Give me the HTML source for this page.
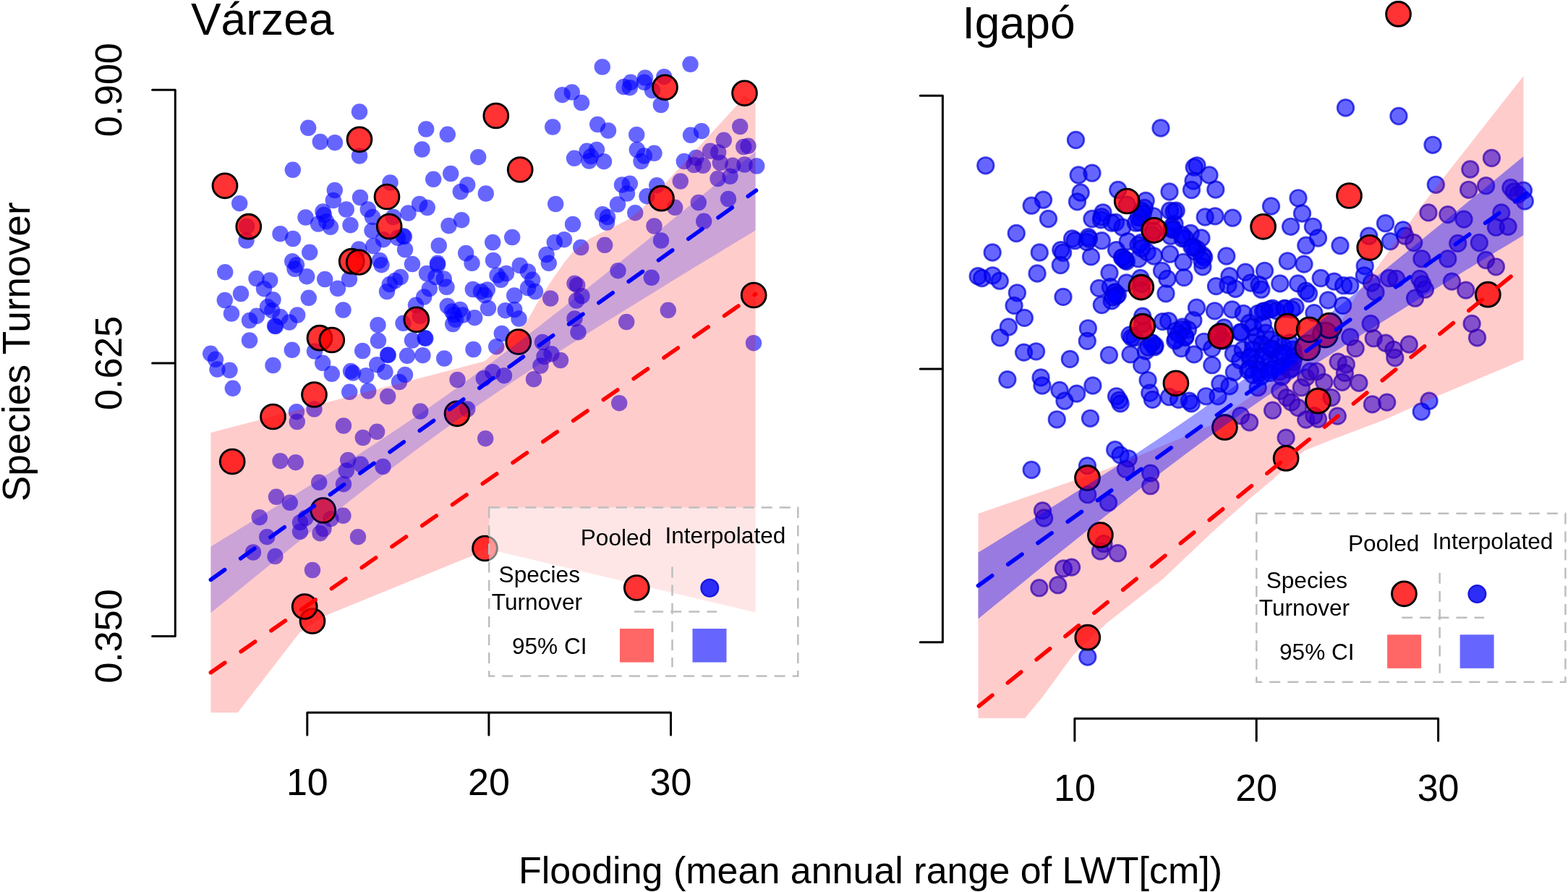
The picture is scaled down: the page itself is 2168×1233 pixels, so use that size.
<!DOCTYPE html>
<html lang="en">
<head>
<meta charset="utf-8">
<title>Species Turnover vs Flooding</title>
<style>
html,body{margin:0;padding:0;background:#fff;}
body{width:2168px;height:1233px;overflow:hidden;font-family:"Liberation Sans", Arial, Helvetica, sans-serif;}
svg{display:block;}
text{font-family:"Liberation Sans", Arial, Helvetica, sans-serif;fill:#000;}
.title{font-size:62.4px;}
.tk{font-size:52px;}
.yl{font-size:53.2px;}
.lt{font-size:31.6px;}
.pink{fill:#ff0000;fill-opacity:0.2;}
.bandL{fill:#0000ff;fill-opacity:0.2;}
.bandR{fill:#0000ff;fill-opacity:0.4;}
.bl{fill:#0000ff;fill-opacity:0.6;}
.br{fill:#0000ff;fill-opacity:0.6;stroke:#0000dc;stroke-opacity:0.7;stroke-width:2.7;}
.rd{fill:#ff0000;fill-opacity:0.8;stroke:#000;stroke-width:2.9;}
.dash{fill:none;stroke-width:5.6;stroke-linecap:round;}
.db{stroke:#0000ff;}
.dr{stroke:#ff0000;}
.ax path{fill:none;stroke:#000;stroke-width:3;stroke-linecap:round;stroke-linejoin:round;}
.lg{fill:none;stroke:#bebebe;stroke-width:2.5;stroke-dasharray:15 10.1;}
</style>
</head>
<body>
<svg width="2168" height="1233" viewBox="0 0 2168 1233">
<rect width="2168" height="1233" fill="#fff"/>
<g id="left">
<circle class="bl" cx="497" cy="154.5" r="11.2"/>
<circle class="bl" cx="426.2" cy="176.8" r="11.2"/>
<circle class="bl" cx="442.8" cy="196" r="11.2"/>
<circle class="bl" cx="463" cy="197.2" r="11.2"/>
<circle class="bl" cx="497" cy="215.5" r="11.2"/>
<circle class="bl" cx="404.8" cy="234.8" r="11.2"/>
<circle class="bl" cx="589.2" cy="178.5" r="11.2"/>
<circle class="bl" cx="618.8" cy="185.8" r="11.2"/>
<circle class="bl" cx="583.5" cy="206.5" r="11.2"/>
<circle class="bl" cx="661.2" cy="217.2" r="11.2"/>
<circle class="bl" cx="764.2" cy="175.5" r="11.2"/>
<circle class="bl" cx="777.5" cy="131.2" r="11.2"/>
<circle class="bl" cx="623.2" cy="240" r="11.2"/>
<circle class="bl" cx="599.2" cy="247.8" r="11.2"/>
<circle class="bl" cx="646.2" cy="255.5" r="11.2"/>
<circle class="bl" cx="636.8" cy="265" r="11.2"/>
<circle class="bl" cx="671.8" cy="267.5" r="11.2"/>
<circle class="bl" cx="539.5" cy="252.5" r="11.2"/>
<circle class="bl" cx="462.8" cy="263" r="11.2"/>
<circle class="bl" cx="460.8" cy="277" r="11.2"/>
<circle class="bl" cx="498" cy="273" r="11.2"/>
<circle class="bl" cx="331.2" cy="281.2" r="11.2"/>
<circle class="bl" cx="478.8" cy="289.5" r="11.2"/>
<circle class="bl" cx="508.8" cy="289.5" r="11.2"/>
<circle class="bl" cx="446.5" cy="292.5" r="11.2"/>
<circle class="bl" cx="422.5" cy="300.5" r="11.2"/>
<circle class="bl" cx="515" cy="300" r="11.2"/>
<circle class="bl" cx="440" cy="309.5" r="11.2"/>
<circle class="bl" cx="451.2" cy="306.2" r="11.2"/>
<circle class="bl" cx="457" cy="313.8" r="11.2"/>
<circle class="bl" cx="484.5" cy="311.2" r="11.2"/>
<circle class="bl" cx="564.5" cy="294.5" r="11.2"/>
<circle class="bl" cx="580" cy="282" r="11.2"/>
<circle class="bl" cx="590.8" cy="287" r="11.2"/>
<circle class="bl" cx="543.8" cy="300" r="11.2"/>
<circle class="bl" cx="514.5" cy="318.8" r="11.2"/>
<circle class="bl" cx="768.2" cy="282" r="11.2"/>
<circle class="bl" cx="638.2" cy="304.2" r="11.2"/>
<circle class="bl" cx="620.5" cy="312" r="11.2"/>
<circle class="bl" cx="387.5" cy="323.2" r="11.2"/>
<circle class="bl" cx="405" cy="330" r="11.2"/>
<circle class="bl" cx="340.5" cy="332.5" r="11.2"/>
<circle class="bl" cx="557.5" cy="326.2" r="11.2"/>
<circle class="bl" cx="550" cy="328.8" r="11.2"/>
<circle class="bl" cx="530" cy="331.2" r="11.2"/>
<circle class="bl" cx="516.2" cy="340" r="11.2"/>
<circle class="bl" cx="496.2" cy="344.5" r="11.2"/>
<circle class="bl" cx="560" cy="345" r="11.2"/>
<circle class="bl" cx="428.2" cy="348.8" r="11.2"/>
<circle class="bl" cx="606.8" cy="339.5" r="11.2"/>
<circle class="bl" cx="681.2" cy="335" r="11.2"/>
<circle class="bl" cx="708.2" cy="328" r="11.2"/>
<circle class="bl" cx="766.8" cy="335" r="11.2"/>
<circle class="bl" cx="644.2" cy="350" r="11.2"/>
<circle class="bl" cx="755.5" cy="352" r="11.2"/>
<circle class="bl" cx="682" cy="360" r="11.2"/>
<circle class="bl" cx="525" cy="360" r="11.2"/>
<circle class="bl" cx="527.5" cy="366.2" r="11.2"/>
<circle class="bl" cx="404.2" cy="361.2" r="11.2"/>
<circle class="bl" cx="410" cy="366.2" r="11.2"/>
<circle class="bl" cx="570" cy="365" r="11.2"/>
<circle class="bl" cx="605" cy="363.8" r="11.2"/>
<circle class="bl" cx="652.5" cy="363.8" r="11.2"/>
<circle class="bl" cx="718.8" cy="367" r="11.2"/>
<circle class="bl" cx="758.8" cy="363.8" r="11.2"/>
<circle class="bl" cx="780" cy="331.2" r="11.2"/>
<circle class="bl" cx="832.8" cy="92.5" r="11.2"/>
<circle class="bl" cx="954.5" cy="88.8" r="11.2"/>
<circle class="bl" cx="918.2" cy="106.2" r="11.2"/>
<circle class="bl" cx="892" cy="107.5" r="11.2"/>
<circle class="bl" cx="890.8" cy="113.8" r="11.2"/>
<circle class="bl" cx="872" cy="113.8" r="11.2"/>
<circle class="bl" cx="862.5" cy="120" r="11.2"/>
<circle class="bl" cx="870.8" cy="121.2" r="11.2"/>
<circle class="bl" cx="902" cy="125" r="11.2"/>
<circle class="bl" cx="790.8" cy="127.5" r="11.2"/>
<circle class="bl" cx="804" cy="142" r="11.2"/>
<circle class="bl" cx="913.8" cy="145" r="11.2"/>
<circle class="bl" cx="826.2" cy="172" r="11.2"/>
<circle class="bl" cx="841" cy="180.5" r="11.2"/>
<circle class="bl" cx="880.2" cy="186.2" r="11.2"/>
<circle class="bl" cx="970" cy="181.2" r="11.2"/>
<circle class="bl" cx="955" cy="186.8" r="11.2"/>
<circle class="bl" cx="811.5" cy="208.8" r="11.2"/>
<circle class="bl" cx="825" cy="207" r="11.2"/>
<circle class="bl" cx="794" cy="218.8" r="11.2"/>
<circle class="bl" cx="814.5" cy="222.5" r="11.2"/>
<circle class="bl" cx="817" cy="216.2" r="11.2"/>
<circle class="bl" cx="835" cy="223.2" r="11.2"/>
<circle class="bl" cx="880.8" cy="207" r="11.2"/>
<circle class="bl" cx="890.8" cy="215.5" r="11.2"/>
<circle class="bl" cx="904.5" cy="211.8" r="11.2"/>
<circle class="bl" cx="886.5" cy="223" r="11.2"/>
<circle class="bl" cx="945.8" cy="223" r="11.2"/>
<circle class="bl" cx="962.5" cy="218" r="11.2"/>
<circle class="bl" cx="959.5" cy="228" r="11.2"/>
<circle class="bl" cx="972" cy="228.8" r="11.2"/>
<circle class="bl" cx="982" cy="208.8" r="11.2"/>
<circle class="bl" cx="993.2" cy="210.5" r="11.2"/>
<circle class="bl" cx="1000.8" cy="193.8" r="11.2"/>
<circle class="bl" cx="1023.2" cy="175" r="11.2"/>
<circle class="bl" cx="1028.2" cy="203" r="11.2"/>
<circle class="bl" cx="1034.5" cy="201.8" r="11.2"/>
<circle class="bl" cx="995.8" cy="225" r="11.2"/>
<circle class="bl" cx="1013.2" cy="228.8" r="11.2"/>
<circle class="bl" cx="1029.5" cy="227.5" r="11.2"/>
<circle class="bl" cx="1046.2" cy="229.5" r="11.2"/>
<circle class="bl" cx="1009.5" cy="243.8" r="11.2"/>
<circle class="bl" cx="992.5" cy="247" r="11.2"/>
<circle class="bl" cx="940.8" cy="250.5" r="11.2"/>
<circle class="bl" cx="860" cy="255.5" r="11.2"/>
<circle class="bl" cx="870.8" cy="253.8" r="11.2"/>
<circle class="bl" cx="867" cy="267.5" r="11.2"/>
<circle class="bl" cx="908.2" cy="256.2" r="11.2"/>
<circle class="bl" cx="894.5" cy="271.2" r="11.2"/>
<circle class="bl" cx="854" cy="282.5" r="11.2"/>
<circle class="bl" cx="878.2" cy="294.2" r="11.2"/>
<circle class="bl" cx="933.2" cy="286.8" r="11.2"/>
<circle class="bl" cx="965.8" cy="280" r="11.2"/>
<circle class="bl" cx="1007" cy="275" r="11.2"/>
<circle class="bl" cx="833.2" cy="296.2" r="11.2"/>
<circle class="bl" cx="840" cy="300" r="11.2"/>
<circle class="bl" cx="839" cy="307.5" r="11.2"/>
<circle class="bl" cx="792" cy="310" r="11.2"/>
<circle class="bl" cx="904.5" cy="312.5" r="11.2"/>
<circle class="bl" cx="973.2" cy="305.8" r="11.2"/>
<circle class="bl" cx="914" cy="332.5" r="11.2"/>
<circle class="bl" cx="803.2" cy="342" r="11.2"/>
<circle class="bl" cx="836.2" cy="338.8" r="11.2"/>
<circle class="bl" cx="311.2" cy="376.2" r="11.2"/>
<circle class="bl" cx="354.5" cy="385" r="11.2"/>
<circle class="bl" cx="373.2" cy="387.5" r="11.2"/>
<circle class="bl" cx="407.5" cy="371.8" r="11.2"/>
<circle class="bl" cx="424.2" cy="382.2" r="11.2"/>
<circle class="bl" cx="449.2" cy="386" r="11.2"/>
<circle class="bl" cx="483" cy="386" r="11.2"/>
<circle class="bl" cx="467" cy="398.8" r="11.2"/>
<circle class="bl" cx="546.2" cy="388" r="11.2"/>
<circle class="bl" cx="553.8" cy="383" r="11.2"/>
<circle class="bl" cx="538.8" cy="393" r="11.2"/>
<circle class="bl" cx="590" cy="378" r="11.2"/>
<circle class="bl" cx="602.5" cy="383" r="11.2"/>
<circle class="bl" cx="613.8" cy="385.5" r="11.2"/>
<circle class="bl" cx="687.5" cy="380.5" r="11.2"/>
<circle class="bl" cx="700" cy="378" r="11.2"/>
<circle class="bl" cx="692.5" cy="386.8" r="11.2"/>
<circle class="bl" cx="730" cy="375.5" r="11.2"/>
<circle class="bl" cx="736.2" cy="386.8" r="11.2"/>
<circle class="bl" cx="333" cy="406" r="11.2"/>
<circle class="bl" cx="310.8" cy="415" r="11.2"/>
<circle class="bl" cx="365" cy="399.2" r="11.2"/>
<circle class="bl" cx="377.5" cy="414.2" r="11.2"/>
<circle class="bl" cx="426.8" cy="411.8" r="11.2"/>
<circle class="bl" cx="535" cy="403" r="11.2"/>
<circle class="bl" cx="593.8" cy="399.2" r="11.2"/>
<circle class="bl" cx="586.2" cy="410.5" r="11.2"/>
<circle class="bl" cx="617.5" cy="396.8" r="11.2"/>
<circle class="bl" cx="653.8" cy="400" r="11.2"/>
<circle class="bl" cx="665" cy="403" r="11.2"/>
<circle class="bl" cx="673.8" cy="400.5" r="11.2"/>
<circle class="bl" cx="670" cy="408" r="11.2"/>
<circle class="bl" cx="711.2" cy="408.5" r="11.2"/>
<circle class="bl" cx="730" cy="398" r="11.2"/>
<circle class="bl" cx="740" cy="403" r="11.2"/>
<circle class="bl" cx="761.2" cy="412.5" r="11.2"/>
<circle class="bl" cx="320" cy="433.5" r="11.2"/>
<circle class="bl" cx="370" cy="424.2" r="11.2"/>
<circle class="bl" cx="376.2" cy="429.2" r="11.2"/>
<circle class="bl" cx="355" cy="436.8" r="11.2"/>
<circle class="bl" cx="345" cy="443" r="11.2"/>
<circle class="bl" cx="387.5" cy="438" r="11.2"/>
<circle class="bl" cx="411.2" cy="435.5" r="11.2"/>
<circle class="bl" cx="400" cy="445.5" r="11.2"/>
<circle class="bl" cx="380" cy="450.5" r="11.2"/>
<circle class="bl" cx="474.5" cy="428.5" r="11.2"/>
<circle class="bl" cx="575" cy="421.8" r="11.2"/>
<circle class="bl" cx="618.8" cy="423" r="11.2"/>
<circle class="bl" cx="625" cy="430.5" r="11.2"/>
<circle class="bl" cx="636.2" cy="428" r="11.2"/>
<circle class="bl" cx="640" cy="435.5" r="11.2"/>
<circle class="bl" cx="630" cy="441.8" r="11.2"/>
<circle class="bl" cx="626.2" cy="448" r="11.2"/>
<circle class="bl" cx="656.2" cy="439.2" r="11.2"/>
<circle class="bl" cx="675" cy="426" r="11.2"/>
<circle class="bl" cx="698.8" cy="429.2" r="11.2"/>
<circle class="bl" cx="711.2" cy="428" r="11.2"/>
<circle class="bl" cx="717.5" cy="440.5" r="11.2"/>
<circle class="bl" cx="522.5" cy="449.2" r="11.2"/>
<circle class="bl" cx="557.5" cy="446.8" r="11.2"/>
<circle class="bl" cx="345" cy="470.5" r="11.2"/>
<circle class="bl" cx="403.8" cy="483.8" r="11.2"/>
<circle class="bl" cx="435" cy="485.5" r="11.2"/>
<circle class="bl" cx="523" cy="471" r="11.2"/>
<circle class="bl" cx="501.2" cy="485" r="11.2"/>
<circle class="bl" cx="570" cy="470.5" r="11.2"/>
<circle class="bl" cx="587.5" cy="467.2" r="11.2"/>
<circle class="bl" cx="693.8" cy="461" r="11.2"/>
<circle class="bl" cx="686.2" cy="479.2" r="11.2"/>
<circle class="bl" cx="654.5" cy="483" r="11.2"/>
<circle class="bl" cx="536.2" cy="490.5" r="11.2"/>
<circle class="bl" cx="563" cy="491.8" r="11.2"/>
<circle class="bl" cx="584.5" cy="491.2" r="11.2"/>
<circle class="bl" cx="614.2" cy="495.5" r="11.2"/>
<circle class="bl" cx="291.2" cy="488.8" r="11.2"/>
<circle class="bl" cx="298" cy="496.8" r="11.2"/>
<circle class="bl" cx="300.5" cy="510.5" r="11.2"/>
<circle class="bl" cx="317.5" cy="511.8" r="11.2"/>
<circle class="bl" cx="377.5" cy="505" r="11.2"/>
<circle class="bl" cx="446.2" cy="501.8" r="11.2"/>
<circle class="bl" cx="458.8" cy="516.8" r="11.2"/>
<circle class="bl" cx="485" cy="513" r="11.2"/>
<circle class="bl" cx="488" cy="515.5" r="11.2"/>
<circle class="bl" cx="506.2" cy="519.2" r="11.2"/>
<circle class="bl" cx="521.2" cy="504.2" r="11.2"/>
<circle class="bl" cx="532.5" cy="514.2" r="11.2"/>
<circle class="bl" cx="560" cy="518" r="11.2"/>
<circle class="bl" cx="552" cy="528" r="11.2"/>
<circle class="bl" cx="321.8" cy="536.8" r="11.2"/>
<circle class="bl" cx="483.2" cy="541.8" r="11.2"/>
<circle class="bl" cx="509.2" cy="540.5" r="11.2"/>
<circle class="bl" cx="536.2" cy="548" r="11.2"/>
<circle class="bl" cx="632.5" cy="525" r="11.2"/>
<circle class="bl" cx="668.8" cy="523" r="11.2"/>
<circle class="bl" cx="681.2" cy="514.2" r="11.2"/>
<circle class="bl" cx="697" cy="519.2" r="11.2"/>
<circle class="bl" cx="738" cy="524.2" r="11.2"/>
<circle class="bl" cx="747.5" cy="505.5" r="11.2"/>
<circle class="bl" cx="752.5" cy="493" r="11.2"/>
<circle class="bl" cx="762.5" cy="489.2" r="11.2"/>
<circle class="bl" cx="775" cy="498" r="11.2"/>
<circle class="bl" cx="750" cy="473" r="11.2"/>
<circle class="bl" cx="410" cy="569.2" r="11.2"/>
<circle class="bl" cx="410.8" cy="583" r="11.2"/>
<circle class="bl" cx="434.5" cy="565.5" r="11.2"/>
<circle class="bl" cx="475" cy="588.5" r="11.2"/>
<circle class="bl" cx="581.2" cy="568.5" r="11.2"/>
<circle class="bl" cx="521.2" cy="596.8" r="11.2"/>
<circle class="bl" cx="501.8" cy="605" r="11.2"/>
<circle class="bl" cx="646.2" cy="565.5" r="11.2"/>
<circle class="bl" cx="671.2" cy="606.2" r="11.2"/>
<circle class="bl" cx="387.5" cy="637.2" r="11.2"/>
<circle class="bl" cx="408.8" cy="639.2" r="11.2"/>
<circle class="bl" cx="481.2" cy="636" r="11.2"/>
<circle class="bl" cx="498.8" cy="641.8" r="11.2"/>
<circle class="bl" cx="478.8" cy="650.5" r="11.2"/>
<circle class="bl" cx="529.5" cy="645" r="11.2"/>
<circle class="bl" cx="441.2" cy="666.8" r="11.2"/>
<circle class="bl" cx="475" cy="669.2" r="11.2"/>
<circle class="bl" cx="854.5" cy="374.2" r="11.2"/>
<circle class="bl" cx="900.8" cy="383.8" r="11.2"/>
<circle class="bl" cx="794.5" cy="391.8" r="11.2"/>
<circle class="bl" cx="798.2" cy="394.2" r="11.2"/>
<circle class="bl" cx="804.5" cy="409.2" r="11.2"/>
<circle class="bl" cx="797" cy="415.5" r="11.2"/>
<circle class="bl" cx="794.5" cy="440.5" r="11.2"/>
<circle class="bl" cx="799.5" cy="459.2" r="11.2"/>
<circle class="bl" cx="866.2" cy="445" r="11.2"/>
<circle class="bl" cx="923.8" cy="428.8" r="11.2"/>
<circle class="bl" cx="1042" cy="474.2" r="11.2"/>
<circle class="bl" cx="856.2" cy="557.2" r="11.2"/>
<circle class="bl" cx="382" cy="686.8" r="11.2"/>
<circle class="bl" cx="400.8" cy="694.8" r="11.2"/>
<circle class="bl" cx="358.8" cy="715.2" r="11.2"/>
<circle class="bl" cx="474.5" cy="712.8" r="11.2"/>
<circle class="bl" cx="415" cy="722.2" r="11.2"/>
<circle class="bl" cx="422.5" cy="716" r="11.2"/>
<circle class="bl" cx="415" cy="734.8" r="11.2"/>
<circle class="bl" cx="442.5" cy="737.2" r="11.2"/>
<circle class="bl" cx="447.5" cy="731" r="11.2"/>
<circle class="bl" cx="457.5" cy="717.2" r="11.2"/>
<circle class="bl" cx="369.2" cy="742.2" r="11.2"/>
<circle class="bl" cx="495" cy="742.2" r="11.2"/>
<circle class="bl" cx="350" cy="763.5" r="11.2"/>
<circle class="bl" cx="380.5" cy="769" r="11.2"/>
<circle class="bl" cx="432" cy="788" r="11.2"/>
<circle class="bl" cx="381" cy="451.1" r="11.2"/>
<circle class="bl" cx="605.1" cy="366" r="11.2"/>
<circle class="bl" cx="588.4" cy="467.8" r="11.2"/>
<circle class="bl" cx="536.7" cy="490.9" r="11.2"/>
<circle class="bl" cx="627.8" cy="435" r="11.2"/>
<circle class="bl" cx="558.9" cy="327.2" r="11.2"/>
<circle class="bl" cx="447.9" cy="296.9" r="11.2"/>
<circle class="bl" cx="341.2" cy="313" r="11.2"/>
<circle class="bl" cx="580.7" cy="436.9" r="11.2"/>
<polygon class="pink" points="291.4,598 670.2,499.3 690,481 710,463 727.2,446.8 741.8,420.5 762.2,388.4 779.7,363.6 791.4,349 815,330 868.5,303.6 888,288 1019.5,144.9 1029,132 1044.6,143 1044.6,846.6 670,758 652.5,768.5 450,851 415,873.5 328.8,985 291.4,985"/>
<circle class="rd" cx="311" cy="256.8" r="16.9"/>
<circle class="rd" cx="343.8" cy="313.2" r="16.9"/>
<circle class="rd" cx="497" cy="192.8" r="16.9"/>
<circle class="rd" cx="535" cy="272" r="16.9"/>
<circle class="rd" cx="538.2" cy="313" r="16.9"/>
<circle class="rd" cx="685.8" cy="160" r="16.9"/>
<circle class="rd" cx="719.2" cy="234.5" r="16.9"/>
<circle class="rd" cx="486.2" cy="361.2" r="16.9"/>
<circle class="rd" cx="496.2" cy="362.5" r="16.9"/>
<circle class="rd" cx="919.5" cy="120.8" r="16.9"/>
<circle class="rd" cx="1029.5" cy="128.8" r="16.9"/>
<circle class="rd" cx="914.5" cy="274.2" r="16.9"/>
<circle class="rd" cx="575.8" cy="441.8" r="16.9"/>
<circle class="rd" cx="442" cy="467.2" r="16.9"/>
<circle class="rd" cx="458.8" cy="470" r="16.9"/>
<circle class="rd" cx="716.8" cy="472.5" r="16.9"/>
<circle class="rd" cx="434.5" cy="545.5" r="16.9"/>
<circle class="rd" cx="377.5" cy="576" r="16.9"/>
<circle class="rd" cx="632" cy="571.8" r="16.9"/>
<circle class="rd" cx="321.2" cy="638" r="16.9"/>
<circle class="rd" cx="1042.2" cy="408" r="16.9"/>
<circle class="rd" cx="446.8" cy="705.5" r="16.9"/>
<circle class="rd" cx="432" cy="858.5" r="16.9"/>
<circle class="rd" cx="421.2" cy="838.5" r="16.9"/>
<circle class="rd" cx="670.5" cy="758" r="16.9"/>
<polygon class="bandL" points="291.4,755.5 310.2,744 329.1,732.5 347.9,720.9 366.7,709.3 385.5,697.7 404.4,686 423.2,674.3 442,662.4 460.9,650.5 479.7,638.5 498.5,626.4 517.4,614.2 536.2,601.8 555,589.3 573.8,576.6 592.7,563.7 611.5,550.6 630.3,537.2 649.2,523.6 668,509.8 686.8,495.8 705.7,481.6 724.5,467.2 743.3,452.7 762.1,438 781,423.2 799.8,408.3 818.6,393.3 837.5,378.3 856.3,363.1 875.1,347.9 894,332.7 912.8,317.4 931.6,302.1 950.4,286.7 969.3,271.3 988.1,255.9 1006.9,240.5 1025.8,225 1044.6,209.5 1044.6,318.4 1025.8,329.8 1006.9,341.3 988.1,352.7 969.3,364.1 950.4,375.6 931.6,387.1 912.8,398.7 894,410.3 875.1,421.9 856.3,433.6 837.5,445.3 818.6,457.1 799.8,469 781,480.9 762.1,493 743.3,505.2 724.5,517.5 705.7,530 686.8,542.7 668,555.6 649.2,568.6 630.3,581.9 611.5,595.4 592.7,609.2 573.8,623.1 555,637.3 536.2,651.6 517.4,666.1 498.5,680.8 479.7,695.5 460.9,710.4 442,725.4 423.2,740.5 404.4,755.6 385.5,770.8 366.7,786 347.9,801.3 329.1,816.6 310.2,831.9 291.4,847.3"/>
<line class="dash db" stroke-dasharray="23.7 27" x1="291.4" y1="801.4" x2="1045.5" y2="263.3"/>
<line class="dash dr" stroke-dasharray="23.7 27.15" x1="291.4" y1="929.6" x2="1044.6" y2="406.5"/>
</g>
<g id="right">
<circle class="br" cx="1860.5" cy="149" r="11.3"/>
<circle class="br" cx="1605" cy="177" r="11.3"/>
<circle class="br" cx="1487.5" cy="193.5" r="11.3"/>
<circle class="br" cx="1362.8" cy="228.8" r="11.3"/>
<circle class="br" cx="1491.2" cy="242" r="11.3"/>
<circle class="br" cx="1510" cy="239.2" r="11.3"/>
<circle class="br" cx="1651.2" cy="231.2" r="11.3"/>
<circle class="br" cx="1655" cy="228.8" r="11.3"/>
<circle class="br" cx="1672" cy="242" r="11.3"/>
<circle class="br" cx="1650" cy="250" r="11.3"/>
<circle class="br" cx="1647.5" cy="262.5" r="11.3"/>
<circle class="br" cx="1680.8" cy="262" r="11.3"/>
<circle class="br" cx="1617" cy="265" r="11.3"/>
<circle class="br" cx="1545.8" cy="262.5" r="11.3"/>
<circle class="br" cx="1494.2" cy="266.2" r="11.3"/>
<circle class="br" cx="1489.5" cy="278.8" r="11.3"/>
<circle class="br" cx="1442.5" cy="276.2" r="11.3"/>
<circle class="br" cx="1426.2" cy="284.2" r="11.3"/>
<circle class="br" cx="1584.2" cy="277.5" r="11.3"/>
<circle class="br" cx="1582.5" cy="287.5" r="11.3"/>
<circle class="br" cx="1795" cy="273.8" r="11.3"/>
<circle class="br" cx="1757.5" cy="285" r="11.3"/>
<circle class="br" cx="1800.5" cy="295" r="11.3"/>
<circle class="br" cx="1617.5" cy="291.2" r="11.3"/>
<circle class="br" cx="1626.2" cy="291.2" r="11.3"/>
<circle class="br" cx="1525" cy="293.8" r="11.3"/>
<circle class="br" cx="1449.5" cy="302.5" r="11.3"/>
<circle class="br" cx="1510" cy="302.5" r="11.3"/>
<circle class="br" cx="1522.5" cy="303.8" r="11.3"/>
<circle class="br" cx="1542.5" cy="307.5" r="11.3"/>
<circle class="br" cx="1595" cy="298.8" r="11.3"/>
<circle class="br" cx="1577.5" cy="300" r="11.3"/>
<circle class="br" cx="1666.2" cy="300" r="11.3"/>
<circle class="br" cx="1680" cy="298.8" r="11.3"/>
<circle class="br" cx="1704.2" cy="301.2" r="11.3"/>
<circle class="br" cx="1405.3" cy="322.5" r="11.3"/>
<circle class="br" cx="1551.9" cy="314.2" r="11.3"/>
<circle class="br" cx="1576" cy="307.7" r="11.3"/>
<circle class="br" cx="1624" cy="309.6" r="11.3"/>
<circle class="br" cx="1620.3" cy="317" r="11.3"/>
<circle class="br" cx="1646.2" cy="322.5" r="11.3"/>
<circle class="br" cx="1661" cy="329" r="11.3"/>
<circle class="br" cx="1635.1" cy="329.9" r="11.3"/>
<circle class="br" cx="1618.5" cy="326.2" r="11.3"/>
<circle class="br" cx="1482.6" cy="329.9" r="11.3"/>
<circle class="br" cx="1486.3" cy="332.7" r="11.3"/>
<circle class="br" cx="1504.8" cy="327.7" r="11.3"/>
<circle class="br" cx="1502.9" cy="334.6" r="11.3"/>
<circle class="br" cx="1523.3" cy="332.7" r="11.3"/>
<circle class="br" cx="1559.3" cy="333.6" r="11.3"/>
<circle class="br" cx="1577.8" cy="335.5" r="11.3"/>
<circle class="br" cx="1372.2" cy="349" r="11.3"/>
<circle class="br" cx="1437.3" cy="349" r="11.3"/>
<circle class="br" cx="1466.8" cy="345.6" r="11.3"/>
<circle class="br" cx="1469.6" cy="349.3" r="11.3"/>
<circle class="br" cx="1508.5" cy="354.9" r="11.3"/>
<circle class="br" cx="1543.6" cy="345.6" r="11.3"/>
<circle class="br" cx="1551.9" cy="355.8" r="11.3"/>
<circle class="br" cx="1555.6" cy="358.6" r="11.3"/>
<circle class="br" cx="1557.5" cy="361.4" r="11.3"/>
<circle class="br" cx="1574.1" cy="357.7" r="11.3"/>
<circle class="br" cx="1586.1" cy="348.4" r="11.3"/>
<circle class="br" cx="1595.4" cy="354" r="11.3"/>
<circle class="br" cx="1617.6" cy="351.2" r="11.3"/>
<circle class="br" cx="1636.1" cy="362.3" r="11.3"/>
<circle class="br" cx="1649.9" cy="341" r="11.3"/>
<circle class="br" cx="1655.5" cy="344.7" r="11.3"/>
<circle class="br" cx="1662.9" cy="353" r="11.3"/>
<circle class="br" cx="1664.7" cy="355.8" r="11.3"/>
<circle class="br" cx="1662.9" cy="368.8" r="11.3"/>
<circle class="br" cx="1695.8" cy="354" r="11.3"/>
<circle class="br" cx="1466.3" cy="366.5" r="11.3"/>
<circle class="br" cx="1434.1" cy="378" r="11.3"/>
<circle class="br" cx="1534" cy="377.1" r="11.3"/>
<circle class="br" cx="1606.5" cy="374.3" r="11.3"/>
<circle class="br" cx="1613.9" cy="385.4" r="11.3"/>
<circle class="br" cx="1637" cy="383.6" r="11.3"/>
<circle class="br" cx="1699.9" cy="381.7" r="11.3"/>
<circle class="br" cx="1722" cy="376.2" r="11.3"/>
<circle class="br" cx="1729.4" cy="391" r="11.3"/>
<circle class="br" cx="1352.2" cy="381.7" r="11.3"/>
<circle class="br" cx="1357.7" cy="384.5" r="11.3"/>
<circle class="br" cx="1372.5" cy="380.8" r="11.3"/>
<circle class="br" cx="1382.3" cy="388.2" r="11.3"/>
<circle class="br" cx="1519.6" cy="398.4" r="11.3"/>
<circle class="br" cx="1535.3" cy="396.5" r="11.3"/>
<circle class="br" cx="1541.7" cy="403.9" r="11.3"/>
<circle class="br" cx="1545.4" cy="407.6" r="11.3"/>
<circle class="br" cx="1557.5" cy="391" r="11.3"/>
<circle class="br" cx="1576.9" cy="384.5" r="11.3"/>
<circle class="br" cx="1612" cy="405.8" r="11.3"/>
<circle class="br" cx="1681.4" cy="395.6" r="11.3"/>
<circle class="br" cx="1698" cy="393.7" r="11.3"/>
<circle class="br" cx="1708.2" cy="399.3" r="11.3"/>
<circle class="br" cx="1406.4" cy="404.8" r="11.3"/>
<circle class="br" cx="1470" cy="410.4" r="11.3"/>
<circle class="br" cx="1402.1" cy="422.4" r="11.3"/>
<circle class="br" cx="1523.3" cy="421.5" r="11.3"/>
<circle class="br" cx="1537.1" cy="415.9" r="11.3"/>
<circle class="br" cx="1416.4" cy="439.4" r="11.3"/>
<circle class="br" cx="1654.5" cy="425.2" r="11.3"/>
<circle class="br" cx="1679.5" cy="429.8" r="11.3"/>
<circle class="br" cx="1703.6" cy="427.9" r="11.3"/>
<circle class="br" cx="1719.3" cy="433.5" r="11.3"/>
<circle class="br" cx="1579.7" cy="437.2" r="11.3"/>
<circle class="br" cx="1607.4" cy="444.6" r="11.3"/>
<circle class="br" cx="1615.7" cy="443.7" r="11.3"/>
<circle class="br" cx="1649.9" cy="442.7" r="11.3"/>
<circle class="br" cx="1635.1" cy="452" r="11.3"/>
<circle class="br" cx="1625.9" cy="457.5" r="11.3"/>
<circle class="br" cx="1642.5" cy="455.7" r="11.3"/>
<circle class="br" cx="1394.4" cy="452" r="11.3"/>
<circle class="br" cx="1504.4" cy="453.8" r="11.3"/>
<circle class="br" cx="1382.7" cy="466.8" r="11.3"/>
<circle class="br" cx="1503.3" cy="471.4" r="11.3"/>
<circle class="br" cx="1562.1" cy="463.1" r="11.3"/>
<circle class="br" cx="1568.6" cy="466.8" r="11.3"/>
<circle class="br" cx="1592.6" cy="474.2" r="11.3"/>
<circle class="br" cx="1596.3" cy="479.7" r="11.3"/>
<circle class="br" cx="1625.9" cy="468.6" r="11.3"/>
<circle class="br" cx="1638.8" cy="464.9" r="11.3"/>
<circle class="br" cx="1633.3" cy="481.6" r="11.3"/>
<circle class="br" cx="1664.7" cy="472.3" r="11.3"/>
<circle class="br" cx="1692.5" cy="452.9" r="11.3"/>
<circle class="br" cx="1716.5" cy="459.4" r="11.3"/>
<circle class="br" cx="1727.6" cy="446.4" r="11.3"/>
<circle class="br" cx="1415.6" cy="487.1" r="11.3"/>
<circle class="br" cx="1432.6" cy="485.8" r="11.3"/>
<circle class="br" cx="1479.4" cy="496.4" r="11.3"/>
<circle class="br" cx="1533.4" cy="490.8" r="11.3"/>
<circle class="br" cx="1563" cy="489.9" r="11.3"/>
<circle class="br" cx="1584.3" cy="485.3" r="11.3"/>
<circle class="br" cx="1578.7" cy="504.7" r="11.3"/>
<circle class="br" cx="1650.9" cy="489.9" r="11.3"/>
<circle class="br" cx="1675.8" cy="481.6" r="11.3"/>
<circle class="br" cx="1675.8" cy="504.7" r="11.3"/>
<circle class="br" cx="1705.4" cy="489" r="11.3"/>
<circle class="br" cx="1718.3" cy="483.4" r="11.3"/>
<circle class="br" cx="1714.7" cy="498.2" r="11.3"/>
<circle class="br" cx="1729.4" cy="492.7" r="11.3"/>
<circle class="br" cx="1784.6" cy="313.3" r="11.3"/>
<circle class="br" cx="1815.4" cy="313.3" r="11.3"/>
<circle class="br" cx="1822.5" cy="329" r="11.3"/>
<circle class="br" cx="1805.8" cy="339.2" r="11.3"/>
<circle class="br" cx="1853" cy="339.5" r="11.3"/>
<circle class="br" cx="1915.5" cy="308.7" r="11.3"/>
<circle class="br" cx="1939.9" cy="317.9" r="11.3"/>
<circle class="br" cx="1922.3" cy="333.6" r="11.3"/>
<circle class="br" cx="1892.7" cy="326.2" r="11.3"/>
<circle class="br" cx="1975" cy="293.9" r="11.3"/>
<circle class="br" cx="2001.8" cy="296.6" r="11.3"/>
<circle class="br" cx="2024" cy="303.1" r="11.3"/>
<circle class="br" cx="2075.8" cy="293.9" r="11.3"/>
<circle class="br" cx="2068.4" cy="314.2" r="11.3"/>
<circle class="br" cx="2085.1" cy="313.3" r="11.3"/>
<circle class="br" cx="1942.7" cy="326.2" r="11.3"/>
<circle class="br" cx="1954.7" cy="335.5" r="11.3"/>
<circle class="br" cx="1965.8" cy="357.7" r="11.3"/>
<circle class="br" cx="2001.8" cy="357.7" r="11.3"/>
<circle class="br" cx="2015.7" cy="336.4" r="11.3"/>
<circle class="br" cx="2045.3" cy="335.5" r="11.3"/>
<circle class="br" cx="2054.5" cy="359.5" r="11.3"/>
<circle class="br" cx="2068.4" cy="368.8" r="11.3"/>
<circle class="br" cx="1780.3" cy="360.8" r="11.3"/>
<circle class="br" cx="1803" cy="365.1" r="11.3"/>
<circle class="br" cx="1748.5" cy="374.3" r="11.3"/>
<circle class="br" cx="1887.2" cy="367.8" r="11.3"/>
<circle class="br" cx="1886.3" cy="380.8" r="11.3"/>
<circle class="br" cx="1826.2" cy="384.5" r="11.3"/>
<circle class="br" cx="1844.7" cy="389.1" r="11.3"/>
<circle class="br" cx="1857.6" cy="394.7" r="11.3"/>
<circle class="br" cx="1866.8" cy="394.7" r="11.3"/>
<circle class="br" cx="1769.8" cy="391.9" r="11.3"/>
<circle class="br" cx="1794.7" cy="391.9" r="11.3"/>
<circle class="br" cx="1741.1" cy="393.7" r="11.3"/>
<circle class="br" cx="1743.9" cy="400.2" r="11.3"/>
<circle class="br" cx="1805.8" cy="402.1" r="11.3"/>
<circle class="br" cx="1809.5" cy="405.8" r="11.3"/>
<circle class="br" cx="1920.5" cy="384.5" r="11.3"/>
<circle class="br" cx="1930.6" cy="385.4" r="11.3"/>
<circle class="br" cx="1963" cy="385.4" r="11.3"/>
<circle class="br" cx="1966.7" cy="392.8" r="11.3"/>
<circle class="br" cx="1970.4" cy="400.2" r="11.3"/>
<circle class="br" cx="1956.5" cy="412.2" r="11.3"/>
<circle class="br" cx="2007.4" cy="389.1" r="11.3"/>
<circle class="br" cx="2026.8" cy="401.1" r="11.3"/>
<circle class="br" cx="1896.4" cy="391" r="11.3"/>
<circle class="br" cx="1902" cy="403.9" r="11.3"/>
<circle class="br" cx="1836.3" cy="415" r="11.3"/>
<circle class="br" cx="1856.7" cy="422.4" r="11.3"/>
<circle class="br" cx="1816.9" cy="432.6" r="11.3"/>
<circle class="br" cx="1791" cy="424.2" r="11.3"/>
<circle class="br" cx="1776.2" cy="426.1" r="11.3"/>
<circle class="br" cx="1759.6" cy="426.1" r="11.3"/>
<circle class="br" cx="1748.5" cy="429.8" r="11.3"/>
<circle class="br" cx="1739.2" cy="433.5" r="11.3"/>
<circle class="br" cx="1895.1" cy="447.4" r="11.3"/>
<circle class="br" cx="1866.8" cy="465.9" r="11.3"/>
<circle class="br" cx="1874.2" cy="481.6" r="11.3"/>
<circle class="br" cx="1899.2" cy="467.7" r="11.3"/>
<circle class="br" cx="1915.9" cy="474.2" r="11.3"/>
<circle class="br" cx="1926.9" cy="483.4" r="11.3"/>
<circle class="br" cx="1928.8" cy="494.5" r="11.3"/>
<circle class="br" cx="1948.2" cy="476" r="11.3"/>
<circle class="br" cx="2035.1" cy="447.4" r="11.3"/>
<circle class="br" cx="2042.5" cy="466.8" r="11.3"/>
<circle class="br" cx="1850.2" cy="500.1" r="11.3"/>
<circle class="br" cx="1861.3" cy="503.8" r="11.3"/>
<circle class="br" cx="1392.9" cy="524.6" r="11.3"/>
<circle class="br" cx="1439.1" cy="521.9" r="11.3"/>
<circle class="br" cx="1441" cy="533" r="11.3"/>
<circle class="br" cx="1465" cy="539.4" r="11.3"/>
<circle class="br" cx="1488.7" cy="544.1" r="11.3"/>
<circle class="br" cx="1472" cy="554.2" r="11.3"/>
<circle class="br" cx="1510.9" cy="533" r="11.3"/>
<circle class="br" cx="1543.6" cy="547.8" r="11.3"/>
<circle class="br" cx="1547.3" cy="553.3" r="11.3"/>
<circle class="br" cx="1549.1" cy="557.9" r="11.3"/>
<circle class="br" cx="1587.1" cy="525.6" r="11.3"/>
<circle class="br" cx="1589.8" cy="543.1" r="11.3"/>
<circle class="br" cx="1593.5" cy="552.4" r="11.3"/>
<circle class="br" cx="1616.6" cy="548.7" r="11.3"/>
<circle class="br" cx="1629.6" cy="552.4" r="11.3"/>
<circle class="br" cx="1644.4" cy="554.2" r="11.3"/>
<circle class="br" cx="1647.2" cy="557.9" r="11.3"/>
<circle class="br" cx="1667.5" cy="547.8" r="11.3"/>
<circle class="br" cx="1684.1" cy="547.8" r="11.3"/>
<circle class="br" cx="1686.9" cy="530.2" r="11.3"/>
<circle class="br" cx="1699.9" cy="533.9" r="11.3"/>
<circle class="br" cx="1706.3" cy="514.5" r="11.3"/>
<circle class="br" cx="1725.7" cy="511.7" r="11.3"/>
<circle class="br" cx="1461.3" cy="579.8" r="11.3"/>
<circle class="br" cx="1507.5" cy="578.3" r="11.3"/>
<circle class="br" cx="1541.7" cy="621.7" r="11.3"/>
<circle class="br" cx="1549.1" cy="629.1" r="11.3"/>
<circle class="br" cx="1560.2" cy="633.8" r="11.3"/>
<circle class="br" cx="1556.5" cy="648.5" r="11.3"/>
<circle class="br" cx="1503.5" cy="643.9" r="11.3"/>
<circle class="br" cx="1426.2" cy="649.5" r="11.3"/>
<circle class="br" cx="1590.7" cy="654.1" r="11.3"/>
<circle class="br" cx="1590.7" cy="671.7" r="11.3"/>
<circle class="br" cx="1503.8" cy="683.7" r="11.3"/>
<circle class="br" cx="1532.5" cy="694.8" r="11.3"/>
<circle class="br" cx="1441.5" cy="705.9" r="11.3"/>
<circle class="br" cx="1443.7" cy="716" r="11.3"/>
<circle class="br" cx="1715.6" cy="574.6" r="11.3"/>
<circle class="br" cx="1727.6" cy="583.8" r="11.3"/>
<circle class="br" cx="1976" cy="554.2" r="11.3"/>
<circle class="br" cx="1965.2" cy="569" r="11.3"/>
<circle class="br" cx="1897.4" cy="558.9" r="11.3"/>
<circle class="br" cx="1917.7" cy="556.1" r="11.3"/>
<circle class="br" cx="1849.3" cy="575.1" r="11.3"/>
<circle class="br" cx="1878.9" cy="529.3" r="11.3"/>
<circle class="br" cx="1855.8" cy="528.3" r="11.3"/>
<circle class="br" cx="1830.8" cy="528.3" r="11.3"/>
<circle class="br" cx="1859.4" cy="515.4" r="11.3"/>
<circle class="br" cx="1805.8" cy="521.9" r="11.3"/>
<circle class="br" cx="1811.4" cy="513.5" r="11.3"/>
<circle class="br" cx="1820.6" cy="513.5" r="11.3"/>
<circle class="br" cx="1799.3" cy="535.7" r="11.3"/>
<circle class="br" cx="1772.5" cy="520.9" r="11.3"/>
<circle class="br" cx="1769.8" cy="540.4" r="11.3"/>
<circle class="br" cx="1779" cy="549.6" r="11.3"/>
<circle class="br" cx="1785.5" cy="556.1" r="11.3"/>
<circle class="br" cx="1794.7" cy="563.5" r="11.3"/>
<circle class="br" cx="1805.8" cy="580.1" r="11.3"/>
<circle class="br" cx="1822.5" cy="579.2" r="11.3"/>
<circle class="br" cx="1816.9" cy="574.6" r="11.3"/>
<circle class="br" cx="1841" cy="549.6" r="11.3"/>
<circle class="br" cx="1759.6" cy="567.2" r="11.3"/>
<circle class="br" cx="1778.1" cy="605.1" r="11.3"/>
<circle class="br" cx="1739.2" cy="535.7" r="11.3"/>
<circle class="br" cx="1741.1" cy="515.4" r="11.3"/>
<circle class="br" cx="1757.7" cy="511.7" r="11.3"/>
<circle class="br" cx="1521.4" cy="761.9" r="11.3"/>
<circle class="br" cx="1545.4" cy="764.7" r="11.3"/>
<circle class="br" cx="1526" cy="751.7" r="11.3"/>
<circle class="br" cx="1470.5" cy="785.9" r="11.3"/>
<circle class="br" cx="1481.6" cy="784.1" r="11.3"/>
<circle class="br" cx="1462.8" cy="808.7" r="11.3"/>
<circle class="br" cx="1436.9" cy="812.7" r="11.3"/>
<circle class="br" cx="1503.8" cy="908" r="11.3"/>
<circle class="br" cx="1933.9" cy="160.5" r="11.3"/>
<circle class="br" cx="1981" cy="200.3" r="11.3"/>
<circle class="br" cx="2062.4" cy="218.5" r="11.3"/>
<circle class="br" cx="2032.8" cy="234" r="11.3"/>
<circle class="br" cx="1985.3" cy="255.3" r="11.3"/>
<circle class="br" cx="2030.6" cy="262.3" r="11.3"/>
<circle class="br" cx="2054.6" cy="256.7" r="11.3"/>
<circle class="br" cx="2088.9" cy="259.5" r="11.3"/>
<circle class="br" cx="2093.5" cy="265" r="11.3"/>
<circle class="br" cx="2099" cy="268.8" r="11.3"/>
<circle class="br" cx="2106.4" cy="263.2" r="11.3"/>
<circle class="br" cx="2108.3" cy="278" r="11.3"/>
<circle class="br" cx="1732.5" cy="451.8" r="11.3"/>
<circle class="br" cx="1746.3" cy="448.1" r="11.3"/>
<circle class="br" cx="1714.9" cy="459.2" r="11.3"/>
<circle class="br" cx="1750" cy="460.1" r="11.3"/>
<circle class="br" cx="1737.1" cy="464.7" r="11.3"/>
<circle class="br" cx="1756.5" cy="469.3" r="11.3"/>
<circle class="br" cx="1732.5" cy="474" r="11.3"/>
<circle class="br" cx="1744.5" cy="475.8" r="11.3"/>
<circle class="br" cx="1767.6" cy="474" r="11.3"/>
<circle class="br" cx="1760.2" cy="483.2" r="11.3"/>
<circle class="br" cx="1774.1" cy="478.6" r="11.3"/>
<circle class="br" cx="1787.9" cy="483.2" r="11.3"/>
<circle class="br" cx="1732.5" cy="483.2" r="11.3"/>
<circle class="br" cx="1749.1" cy="486" r="11.3"/>
<circle class="br" cx="1783.3" cy="474" r="11.3"/>
<circle class="br" cx="1755.6" cy="497.1" r="11.3"/>
<circle class="br" cx="1737.1" cy="501.7" r="11.3"/>
<circle class="br" cx="1783.3" cy="497.1" r="11.3"/>
<circle class="br" cx="1769.4" cy="492.5" r="11.3"/>
<circle class="br" cx="1727.8" cy="494.3" r="11.3"/>
<circle class="br" cx="1746.3" cy="492.5" r="11.3"/>
<circle class="br" cx="1789.8" cy="492.5" r="11.3"/>
<circle class="br" cx="1772.2" cy="506.3" r="11.3"/>
<circle class="br" cx="1741.7" cy="511" r="11.3"/>
<circle class="br" cx="1760.2" cy="509.1" r="11.3"/>
<circle class="br" cx="1786.1" cy="509.1" r="11.3"/>
<circle class="br" cx="1727.8" cy="509.1" r="11.3"/>
<circle class="br" cx="1757.4" cy="482" r="11.3"/>
<circle class="br" cx="1774.1" cy="488.5" r="11.3"/>
<circle class="br" cx="1787.9" cy="500.5" r="11.3"/>
<circle class="br" cx="1732.5" cy="518.4" r="11.3"/>
<circle class="br" cx="1743.6" cy="520.2" r="11.3"/>
<circle class="br" cx="1755.6" cy="515.6" r="11.3"/>
<circle class="br" cx="1769.4" cy="513.7" r="11.3"/>
<circle class="br" cx="1783.3" cy="511" r="11.3"/>
<circle class="br" cx="1746.3" cy="430.5" r="11.3"/>
<circle class="br" cx="1755.6" cy="427.7" r="11.3"/>
<circle class="br" cx="1764.8" cy="429.6" r="11.3"/>
<circle class="br" cx="1776.8" cy="426.8" r="11.3"/>
<circle class="br" cx="1786.1" cy="427.7" r="11.3"/>
<circle class="br" cx="1684.4" cy="460.1" r="11.3"/>
<circle class="br" cx="1691.8" cy="470.3" r="11.3"/>
<circle class="br" cx="1578.6" cy="291.4" r="11.3"/>
<circle class="br" cx="1580.4" cy="295.1" r="11.3"/>
<circle class="br" cx="1574" cy="300.7" r="11.3"/>
<circle class="br" cx="1570.3" cy="308.1" r="11.3"/>
<circle class="br" cx="1574" cy="338.6" r="11.3"/>
<circle class="br" cx="1578.6" cy="343.2" r="11.3"/>
<circle class="br" cx="1623" cy="292.4" r="11.3"/>
<circle class="br" cx="1620.2" cy="313.6" r="11.3"/>
<circle class="br" cx="1622.1" cy="317.3" r="11.3"/>
<circle class="br" cx="1638.7" cy="329.3" r="11.3"/>
<circle class="br" cx="1634.1" cy="324.7" r="11.3"/>
<circle class="br" cx="1652.6" cy="347.8" r="11.3"/>
<circle class="br" cx="1647.9" cy="341.4" r="11.3"/>
<circle class="br" cx="1555.5" cy="359.9" r="11.3"/>
<circle class="br" cx="1551.8" cy="356.2" r="11.3"/>
<circle class="br" cx="1537" cy="308.1" r="11.3"/>
<circle class="br" cx="1523.1" cy="299.8" r="11.3"/>
<circle class="br" cx="1505.5" cy="330.3" r="11.3"/>
<circle class="br" cx="1595.2" cy="319.2" r="11.3"/>
<circle class="br" cx="1592.5" cy="324.7" r="11.3"/>
<circle class="br" cx="1558.3" cy="283.1" r="11.3"/>
<circle class="br" cx="1661.8" cy="359.9" r="11.3"/>
<circle class="br" cx="1541.6" cy="404.5" r="11.3"/>
<circle class="br" cx="1543.5" cy="409.1" r="11.3"/>
<circle class="br" cx="1538.8" cy="411" r="11.3"/>
<circle class="br" cx="1634.1" cy="455.4" r="11.3"/>
<circle class="br" cx="1629.4" cy="461.8" r="11.3"/>
<circle class="br" cx="1638.7" cy="466.5" r="11.3"/>
<circle class="br" cx="1624.8" cy="471.1" r="11.3"/>
<circle class="br" cx="1592.5" cy="473.9" r="11.3"/>
<circle class="br" cx="1597.1" cy="477.6" r="11.3"/>
<circle class="br" cx="1587.8" cy="480.3" r="11.3"/>
<circle class="br" cx="1564.7" cy="466.5" r="11.3"/>
<circle class="br" cx="1578.6" cy="392.5" r="11.3"/>
<circle class="br" cx="1578.6" cy="401.7" r="11.3"/>
<circle class="br" cx="1579.5" cy="448" r="11.3"/>
<circle class="br" cx="1581.4" cy="457.2" r="11.3"/>
<circle class="br" cx="1684.9" cy="461.8" r="11.3"/>
<circle class="br" cx="1689.6" cy="471.1" r="11.3"/>
<polygon class="pink" points="1352.5,710 1532.7,647.6 1632,606 1674,588 1705,565 1759,528 1851,450 1881,398.5 1901,374 1969,280 2106.5,105 2106.5,497 2081.4,508 1989,546.8 1915,580.1 1841,607.9 1804,622.7 1785,639 1761.4,661.5 1730,687.4 1675.8,736 1607.4,800.7 1529.7,861.8 1483.5,906.1 1441,964 1417.2,992.7 1352.5,992.7"/>
<circle class="rd" cx="1558.2" cy="278" r="16.9"/>
<circle class="rd" cx="1865.5" cy="270.5" r="16.9"/>
<circle class="rd" cx="1595.7" cy="318.3" r="16.9"/>
<circle class="rd" cx="1577.8" cy="397.1" r="16.9"/>
<circle class="rd" cx="1579.7" cy="451.1" r="16.9"/>
<circle class="rd" cx="1687.8" cy="464.6" r="16.9"/>
<circle class="rd" cx="1746.6" cy="313.3" r="16.9"/>
<circle class="rd" cx="1893.7" cy="342.3" r="16.9"/>
<circle class="rd" cx="2057.3" cy="407.2" r="16.9"/>
<circle class="rd" cx="1832.3" cy="463.1" r="16.9"/>
<circle class="rd" cx="1807.9" cy="480.8" r="16.9"/>
<circle class="rd" cx="1838.2" cy="450.2" r="16.9"/>
<circle class="rd" cx="1779.9" cy="451" r="16.9"/>
<circle class="rd" cx="1810.1" cy="455.8" r="16.9"/>
<circle class="rd" cx="1625.9" cy="529.8" r="16.9"/>
<circle class="rd" cx="1693.4" cy="590.7" r="16.9"/>
<circle class="rd" cx="1503.5" cy="660.6" r="16.9"/>
<circle class="rd" cx="1521.4" cy="739.5" r="16.9"/>
<circle class="rd" cx="1822.5" cy="554.2" r="16.9"/>
<circle class="rd" cx="1778.1" cy="633.4" r="16.9"/>
<circle class="rd" cx="1503.8" cy="881.2" r="16.9"/>
<circle class="rd" cx="1933.5" cy="19.4" r="16.9"/>
<polygon class="bandR" points="1352.5,763.7 1371.3,752.2 1390.2,740.6 1409,729 1427.9,717.4 1446.7,705.7 1465.6,694 1484.4,682.2 1503.3,670.4 1522.1,658.4 1541,646.4 1559.8,634.2 1578.6,622 1597.5,609.6 1616.3,597 1635.2,584.2 1654,571.3 1672.9,558.1 1691.7,544.7 1710.6,531.1 1729.4,517.3 1748.2,503.2 1767.1,489 1785.9,474.6 1804.8,460 1823.6,445.3 1842.5,430.4 1861.3,415.5 1880.2,400.5 1899,385.4 1917.9,370.2 1936.7,354.9 1955.5,339.7 1974.4,324.3 1993.2,309 2012.1,293.6 2030.9,278.1 2049.8,262.7 2068.6,247.2 2087.5,231.7 2106.3,216.2 2106.3,325.2 2087.5,336.7 2068.6,348.1 2049.8,359.6 2030.9,371.1 2012.1,382.6 1993.2,394.1 1974.4,405.7 1955.5,417.3 1936.7,429 1917.9,440.7 1899,452.5 1880.2,464.3 1861.3,476.2 1842.5,488.2 1823.6,500.3 1804.8,512.5 1785.9,524.9 1767.1,537.4 1748.2,550.1 1729.4,563 1710.6,576.1 1691.7,589.5 1672.9,603 1654,616.8 1635.2,630.8 1616.3,645 1597.5,659.3 1578.6,673.9 1559.8,688.6 1541,703.4 1522.1,718.3 1503.3,733.3 1484.4,748.4 1465.6,763.5 1446.7,778.8 1427.9,794 1409,809.4 1390.2,824.7 1371.3,840.1 1352.5,855.5"/>
<line class="dash db" stroke-dasharray="23.7 27" x1="1352.5" y1="809.6" x2="2111" y2="267.3"/>
<line class="dash dr" stroke-dasharray="23.7 27.5" x1="1353.5" y1="976" x2="2089.7" y2="381.7"/>
</g>
<g class="ax">
<path d="M210.6 124.3H242.3V879.5H210.6M210.6 501.9H242.3"/>
<path d="M424.8 1016V985H927.5V1016M675.9 985V1016"/>
<path d="M1272.3 132.3H1303.4V887.7H1272.3M1272.3 510H1303.4"/>
<path d="M1485.9 1024V993.3H1988.6V1024M1737.2 993.3V1024"/>
</g>
<g class="tx">
<text class="title" x="264" y="48.4">Várzea</text>
<text class="title" x="1330.5" y="52.7">Igapó</text>
<text class="tk" text-anchor="middle" transform="translate(167.5,124.3) rotate(-90)">0.900</text>
<text class="tk" text-anchor="middle" transform="translate(167.5,501.9) rotate(-90)">0.625</text>
<text class="tk" text-anchor="middle" transform="translate(167.5,879.5) rotate(-90)">0.350</text>
<text class="yl" text-anchor="middle" transform="translate(41.2,486.3) rotate(-90)">Species Turnover</text>
<text class="tk" text-anchor="middle" x="424.8" y="1098.5">10</text>
<text class="tk" text-anchor="middle" x="675.9" y="1098.5">20</text>
<text class="tk" text-anchor="middle" x="927.5" y="1098.5">30</text>
<text class="tk" text-anchor="middle" x="1485.9" y="1107.2">10</text>
<text class="tk" text-anchor="middle" x="1737.2" y="1107.2">20</text>
<text class="tk" text-anchor="middle" x="1988.6" y="1107.2">30</text>
<text class="tk" x="717" y="1221">Flooding (mean annual range of LWT[cm])</text>
</g>
<g transform="translate(0,0)">
<rect x="676.2" y="701.5" width="427.1" height="232.9" fill="#fff" fill-opacity="0.5"/>
<path class="lg" d="M676.2 701.5H1103.3V934.4H676.2Z"/>
<line class="lg" x1="929.5" y1="783.5" x2="929.5" y2="922.3"/>
<line class="lg" x1="877" y1="845.5" x2="991" y2="845.5"/>
<text class="lt" text-anchor="middle" x="852" y="754">Pooled</text>
<text class="lt" text-anchor="middle" x="1002.9" y="751">Interpolated</text>
<text class="lt" text-anchor="end" x="802" y="805.2">Species</text>
<text class="lt" text-anchor="end" x="805" y="842.8">Turnover</text>
<text class="lt" text-anchor="end" x="811.5" y="903.9">95% CI</text>
<circle cx="880.3" cy="812.5" r="16.9" fill="#ff3333" stroke="#000" stroke-width="2.9"/>
<circle cx="981.3" cy="812.8" r="11.8" fill="#2d2df8" stroke="#1818dc" stroke-width="2.4"/>
<rect x="857" y="869" width="47" height="46.5" fill="#ff6666"/>
<rect x="957.5" y="869" width="47" height="46.5" fill="#6666ff"/>
</g>

<g transform="translate(1061.1,8.3)">
<rect x="676.2" y="701.5" width="427.1" height="232.9" fill="#fff" fill-opacity="0.5"/>
<path class="lg" d="M676.2 701.5H1103.3V934.4H676.2Z"/>
<line class="lg" x1="929.5" y1="783.5" x2="929.5" y2="922.3"/>
<line class="lg" x1="877" y1="845.5" x2="991" y2="845.5"/>
<text class="lt" text-anchor="middle" x="852" y="754">Pooled</text>
<text class="lt" text-anchor="middle" x="1002.9" y="751">Interpolated</text>
<text class="lt" text-anchor="end" x="802" y="805.2">Species</text>
<text class="lt" text-anchor="end" x="805" y="842.8">Turnover</text>
<text class="lt" text-anchor="end" x="811.5" y="903.9">95% CI</text>
<circle cx="880.3" cy="812.5" r="16.9" fill="#ff3333" stroke="#000" stroke-width="2.9"/>
<circle cx="981.3" cy="812.8" r="11.8" fill="#2d2df8" stroke="#1818dc" stroke-width="2.4"/>
<rect x="857" y="869" width="47" height="46.5" fill="#ff6666"/>
<rect x="957.5" y="869" width="47" height="46.5" fill="#6666ff"/>
</g>

</svg>
</body>
</html>
